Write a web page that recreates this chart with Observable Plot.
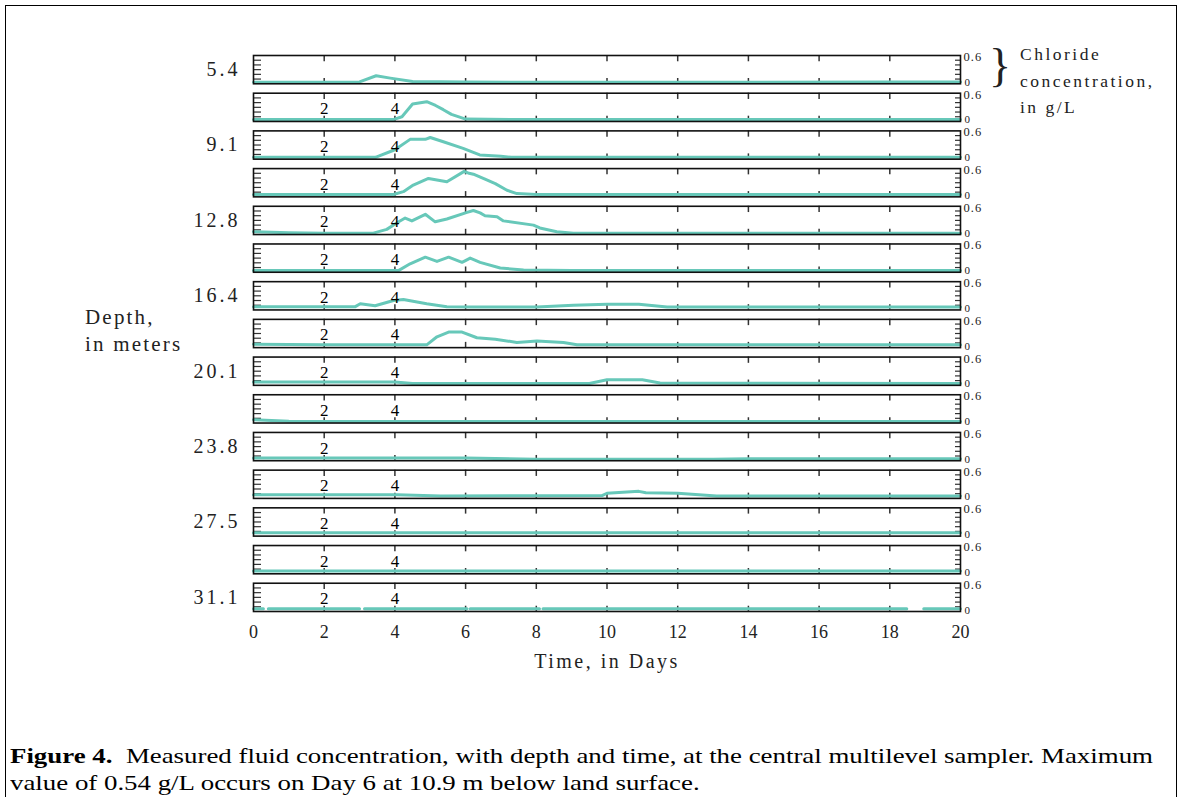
<!DOCTYPE html>
<html>
<head>
<meta charset="utf-8">
<script src="https://cdn.jsdelivr.net/npm/d3@7"></script>
<script src="https://cdn.jsdelivr.net/npm/@observablehq/plot@0.6"></script>
<style>
  html, body { margin: 0; padding: 0; background: #fff; }
  #wrap { position: relative; width: 1180px; height: 797px; overflow: hidden; font-family: "Liberation Serif", serif; color: #222; }
  #border { position: absolute; left: 5px; top: 5px; width: 1170px; height: 900px; border: 1.5px solid #000; }
  #chart { position: absolute; left: 0; top: 0; }
  #depthLabel { position: absolute; left: 85px; top: 304px; font-size: 21px; line-height: 27px; letter-spacing: 2.2px; }
  #clLabel { position: absolute; left: 1020px; top: 41px; font-size: 17.5px; line-height: 26.5px; letter-spacing: 2.5px; }
  #brace { position: absolute; left: 989px; top: 40px; font-size: 46px; line-height: 52px; font-weight: 300; }
  #caption { position: absolute; left: 10px; top: 743px; font-size: 21px; line-height: 26.5px; color: #000; font-family: "Liberation Serif", serif; white-space: nowrap; transform: scaleX(1.279); transform-origin: 0 0; }
  svg g[aria-label="fy-axis tick label"] text { letter-spacing: 3px; }
  svg g[aria-label="x-axis label"] text { letter-spacing: 2.5px; }
  svg g[aria-label="y-axis tick label"] text { letter-spacing: 1px; }
</style>
</head>
<body>
<div id="wrap">
  <div id="border"></div>
  <div id="chart"></div>
  <div id="depthLabel">Depth,<br>in meters</div>
  <div id="brace">}</div>
  <div id="clLabel">Chloride<br>concentration,<br>in g/L</div>
  <div id="caption"><b>Figure 4.</b>&nbsp; Measured fluid concentration, with depth and time, at the central multilevel sampler. Maximum<br>value of 0.54 g/L occurs on Day 6 at 10.9 m below land surface.</div>
</div>
<script>
// Depths of the 15 sampling ports (meters below land surface)
const depths = ["5.4","7.2","9.1","10.9","12.8","14.6","16.4","18.3","20.1","21.9","23.8","25.6","27.5","29.3","31.1"];
const labeledDepths = ["5.4","9.1","12.8","16.4","20.1","23.8","27.5","31.1"];

// Chloride concentration (g/L) versus time (days): [day, conc]
const conc_5_4 = [[0,0.03],[3.0,0.04],[3.47,0.17],[3.87,0.12],[4.5,0.05],[6,0.035],[10,0.03],[14,0.03],[18,0.035],[20,0.04]];
const conc_7_2 = [[0,0.04],[3.95,0.04],[4.2,0.1],[4.5,0.37],[4.9,0.42],[5.15,0.34],[5.37,0.25],[5.6,0.15],[6.0,0.05],[8,0.04],[20,0.04]];
const conc_9_1 = [[0,0.04],[3.45,0.04],[4.0,0.2],[4.43,0.42],[4.86,0.42],[5.0,0.46],[5.37,0.37],[5.93,0.23],[6.4,0.09],[7.0,0.06],[7.3,0.04],[20,0.04]];
const conc_10_9 = [[0,0.05],[3.96,0.05],[4.24,0.11],[4.52,0.25],[4.95,0.39],[5.47,0.32],[5.96,0.54],[6.1,0.5],[6.22,0.48],[6.5,0.39],[6.84,0.28],[7.17,0.14],[7.45,0.07],[8,0.05],[20,0.05]];
const conc_12_8 = [[0,0.06],[1,0.04],[2,0.03],[3.39,0.03],[3.77,0.11],[4.06,0.25],[4.29,0.35],[4.48,0.29],[4.86,0.43],[5.14,0.27],[5.47,0.33],[6.04,0.47],[6.22,0.51],[6.41,0.46],[6.55,0.4],[6.89,0.38],[7.07,0.29],[7.92,0.2],[8.1,0.14],[8.58,0.06],[9.05,0.03],[20,0.03]];
const conc_14_6 = [[0,0.035],[4.1,0.035],[4.43,0.18],[4.86,0.32],[5.19,0.23],[5.52,0.32],[5.9,0.21],[6.13,0.3],[6.41,0.21],[6.98,0.09],[7.64,0.05],[9,0.035],[20,0.035]];
const conc_16_4 = [[0,0.07],[2.88,0.07],[3.02,0.13],[3.44,0.09],[3.96,0.2],[4.24,0.22],[4.9,0.13],[5.47,0.07],[6.22,0.06],[8.02,0.06],[9.05,0.1],[10.0,0.12],[10.9,0.12],[11.7,0.06],[20,0.06]];
const conc_18_3 = [[0,0.07],[2,0.06],[4.9,0.06],[5.19,0.23],[5.52,0.33],[5.9,0.33],[6.32,0.21],[6.84,0.18],[7.45,0.11],[8.02,0.14],[8.77,0.11],[9.15,0.06],[20,0.06]];
const conc_20_1 = [[0,0.07],[4,0.07],[4.5,0.04],[9.5,0.04],[10,0.12],[11,0.12],[11.5,0.05],[20,0.04]];
const conc_21_9 = [[0,0.07],[1,0.04],[2,0.03],[20,0.03]];
const conc_23_8 = [[0,0.06],[6,0.06],[8,0.03],[13,0.03],[14,0.04],[20,0.04]];
const conc_25_6 = [[0,0.08],[4.06,0.08],[5.3,0.05],[9.86,0.06],[10.0,0.11],[10.9,0.15],[11.1,0.12],[12,0.11],[13.1,0.05],[20,0.05]];
const conc_27_5 = [[0,0.07],[10,0.07],[20,0.07]];
const conc_29_3 = [[0,0.06],[10,0.06],[20,0.06]];
const conc_31_1 = [[0,0.06],[0.28,0.06],[0.35,null],[0.42,0.06],[3.0,0.06],[3.07,null],[3.14,0.06],[6.04,0.06],[6.08,null],[6.13,0.06],[8.09,0.06],[8.14,null],[8.19,0.06],[18.48,0.06],[18.7,null],[18.96,0.06],[20,0.06]];

const profiles = [conc_5_4, conc_7_2, conc_9_1, conc_10_9, conc_12_8, conc_14_6, conc_16_4, conc_18_3,
                  conc_20_1, conc_21_9, conc_23_8, conc_25_6, conc_27_5, conc_29_3, conc_31_1];

// Axis ticks
const xTickLabels = [0,2,4,6,8,10,12,14,16,18,20];
const xInnerTicks = [2,4,6,8,10,12,14,16,18];
const yMinorTicks = [0.1,0.2,0.3,0.4,0.5];
// Stray "2" and "4" labels printed inside panels
const innerLabelDays = {"5.4": [], "23.8": [2]};
const defaultInnerDays = [2,4];

const rows = depths.flatMap((d, i) => profiles[i].map(([day, conc]) => ({depth: d, day, conc})));
const innerLabels = depths.flatMap(d => (innerLabelDays[d] ?? defaultInnerDays).map(day => ({depth: d, day, label: String(day)})));

const teal = "#67c8b9";
const chart = Plot.plot({
  width: 1180,
  height: 680,
  marginTop: 55,
  marginBottom: 69,
  marginLeft: 253,
  marginRight: 220,
  style: {fontFamily: "'Liberation Serif', serif", background: "transparent", color: "#222"},
  x: {domain: [0, 20]},
  y: {domain: [0, 0.6]},
  fy: {domain: depths, paddingInner: 0.25, paddingOuter: 0, round: false},
  marks: [
    Plot.ruleX(xInnerTicks, {insetBottom: 22, stroke: "#333", strokeWidth: 1.5}),
    Plot.ruleX(xInnerTicks, {insetTop: 23, stroke: "#333", strokeWidth: 1.5}),
    Plot.ruleY(yMinorTicks, {insetRight: 699, stroke: "#333", strokeWidth: 1.2}),
    Plot.ruleY(yMinorTicks, {insetLeft: 702, stroke: "#333", strokeWidth: 1.2}),
    Plot.line(rows, {x: "day", y: "conc", fy: "depth", stroke: teal, strokeWidth: 3, strokeLinejoin: "round"}),
    Plot.frame({stroke: "#111", strokeWidth: 1.6}),
    Plot.text(innerLabels, {x: "day", fy: "depth", text: "label", frameAnchor: "top", dy: 9, fontSize: 17, fill: "#000"}),
    Plot.axisFy({anchor: "left", tickSize: 0, tickPadding: 13, fontSize: 20, label: null,
                 tickFormat: d => labeledDepths.includes(d) ? d : ""}),
    Plot.axisX({anchor: "bottom", ticks: xTickLabels, tickSize: 0, tickPadding: 14, fontSize: 18, label: null}),
    Plot.axisX({anchor: "bottom", ticks: [], tickSize: 0, fontSize: 20, dx: 8,
                label: "Time, in Days", labelAnchor: "center", labelArrow: false, labelOffset: 56}),
    Plot.axisY({anchor: "right", ticks: [0.6], tickFormat: d => "0.6", tickSize: 0, tickPadding: 3, fontSize: 12.5, dy: 1.5, label: null}),
    Plot.axisY({anchor: "right", ticks: [0], tickFormat: d => "0", tickSize: 0, tickPadding: 4, fontSize: 11, dy: -1.5, label: null})
  ]
});
document.getElementById("chart").appendChild(chart);
</script>
</body>
</html>
